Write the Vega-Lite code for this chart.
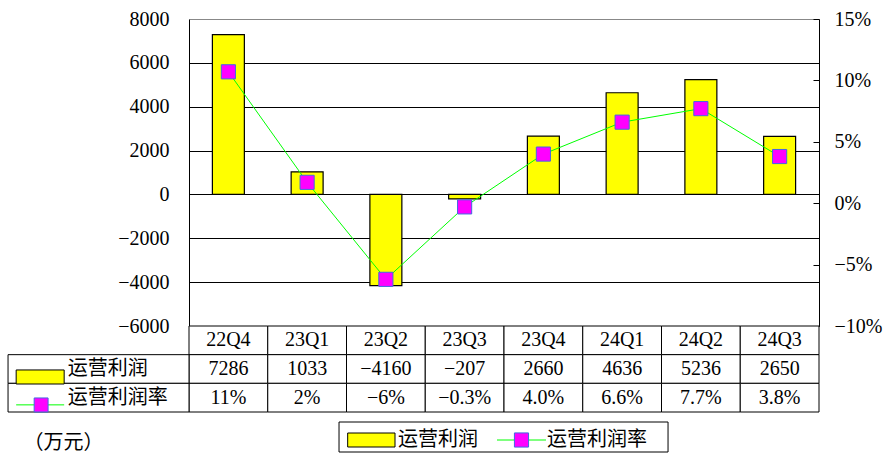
{
  "$schema": "https://vega.github.io/schema/vega-lite/v6.json",
  "padding": {"left": 7, "top": 9, "right": 5, "bottom": 5},
  "background": "white",
  "config": {
    "view": {"stroke": null},
    "font": "Liberation Serif, Noto Sans CJK SC",
    "text": {"font": "Liberation Serif, Noto Sans CJK SC", "fontSize": 20, "color": "#000"}
  },
  "datasets": {
    "q": [
      {"quarter": "22Q4", "profit": 7286, "rate": 0.107, "rateText": "11%"},
      {"quarter": "23Q1", "profit": 1033, "rate": 0.017, "rateText": "2%"},
      {"quarter": "23Q2", "profit": -4160, "rate": -0.062, "rateText": "−6%"},
      {"quarter": "23Q3", "profit": -207, "rate": -0.003, "rateText": "−0.3%"},
      {"quarter": "23Q4", "profit": 2660, "rate": 0.040, "rateText": "4.0%"},
      {"quarter": "24Q1", "profit": 4636, "rate": 0.066, "rateText": "6.6%"},
      {"quarter": "24Q2", "profit": 5236, "rate": 0.077, "rateText": "7.7%"},
      {"quarter": "24Q3", "profit": 2650, "rate": 0.038, "rateText": "3.8%"}
    ],
    "series": [
      {"name": "运营利润", "row": "profit"},
      {"name": "运营利润率", "row": "rate"}
    ]
  },
  "spacing": 0,
  "bounds": "flush",
  "resolve": {"scale": {"x": "independent", "y": "independent"}},
  "vconcat": [
    {
      "width": 630,
      "height": 307,
      "data": {"name": "q"},
      "encoding": {
        "x": {"field": "quarter", "type": "nominal", "sort": null, "axis": null,
              "scale": {"paddingInner": 0.594, "paddingOuter": 0.297}}
      },
      "layer": [
        {
          "mark": {"type": "bar", "fill": "#FFFF00", "stroke": "#000000", "strokeWidth": 1.2},
          "encoding": {
            "y": {"field": "profit", "type": "quantitative",
                  "scale": {"domain": [-6000, 8000], "nice": false, "zero": false},
                  "axis": {"title": null, "values": [-6000, -4000, -2000, 0, 2000, 4000, 6000, 8000],
                           "format": "d", "grid": true,
                           "gridColor": {"condition": {"test": "datum.value === 8000", "value": "#888888"}, "value": "#000000"},
                           "gridOpacity": 1, "gridWidth": 1,
                           "domainColor": "#000000", "ticks": false,
                           "labelFont": "Liberation Serif", "labelFontSize": 20, "labelColor": "#000000",
                           "labelPadding": 20}}
          }
        },
        {
          "encoding": {
            "y": {"field": "rate", "type": "quantitative",
                  "scale": {"domain": [-0.1, 0.15], "nice": false, "zero": false},
                  "axis": {"orient": "right", "title": null, "values": [-0.1, -0.05, 0, 0.05, 0.1, 0.15],
                           "format": ".0%", "grid": false, "domainColor": "#000000",
                           "tickColor": "#000000", "tickSize": -6,
                           "labelFont": "Liberation Serif", "labelFontSize": 20, "labelColor": "#000000",
                           "labelPadding": 21}}
          },
          "layer": [
            {"mark": {"type": "line", "color": "#00FF00", "strokeWidth": 1}},
            {"mark": {"type": "point", "shape": "square", "filled": true, "fill": "#FF00FF",
                      "stroke": "#4169E1", "strokeWidth": 1, "size": 200, "opacity": 1}}
          ]
        }
      ],
      "resolve": {"scale": {"y": "independent"}}
    },
    {
      "width": 630,
      "height": 86,
      "resolve": {"scale": {"x": "independent"}},
      "layer": [
        {
          "data": {"name": "q"},
          "mark": {"type": "rect", "fill": "#ffffff", "stroke": "#000000", "strokeWidth": 1},
          "encoding": {
            "x": {"field": "quarter", "type": "nominal", "sort": null, "axis": null,
                  "scale": {"paddingInner": 0, "paddingOuter": 0}},
            "y": {"datum": "cat", "type": "nominal", "axis": null,
                  "scale": {"domain": ["cat", "profit", "rate"], "paddingInner": 0, "paddingOuter": 0}}
          }
        },
        {
          "data": {"name": "q"},
          "mark": {"type": "rect", "fill": "#ffffff", "stroke": "#000000", "strokeWidth": 1},
          "encoding": {
            "x": {"field": "quarter", "type": "nominal", "sort": null, "axis": null,
                  "scale": {"paddingInner": 0, "paddingOuter": 0}},
            "y": {"datum": "profit", "type": "nominal", "axis": null,
                  "scale": {"domain": ["cat", "profit", "rate"], "paddingInner": 0, "paddingOuter": 0}}
          }
        },
        {
          "data": {"name": "q"},
          "mark": {"type": "rect", "fill": "#ffffff", "stroke": "#000000", "strokeWidth": 1},
          "encoding": {
            "x": {"field": "quarter", "type": "nominal", "sort": null, "axis": null,
                  "scale": {"paddingInner": 0, "paddingOuter": 0}},
            "y": {"datum": "rate", "type": "nominal", "axis": null,
                  "scale": {"domain": ["cat", "profit", "rate"], "paddingInner": 0, "paddingOuter": 0}}
          }
        },
        {
          "data": {"name": "series"},
          "mark": {"type": "rect", "fill": "#ffffff", "stroke": "#000000", "strokeWidth": 1},
          "encoding": {
            "x": {"datum": -2.298, "type": "quantitative", "axis": null, "scale": {"domain": [0, 8], "nice": false, "zero": false}},
            "x2": {"datum": 0},
            "y": {"field": "row", "type": "nominal", "axis": null,
                  "scale": {"domain": ["cat", "profit", "rate"], "paddingInner": 0, "paddingOuter": 0}}
          }
        },
        {
          "data": {"name": "q"},
          "mark": {"type": "text", "fontSize": 20, "font": "Liberation Serif"},
          "encoding": {
            "x": {"field": "quarter", "type": "nominal", "sort": null, "axis": null,
                  "scale": {"paddingInner": 0, "paddingOuter": 0}},
            "y": {"datum": "cat", "type": "nominal", "axis": null},
            "text": {"field": "quarter"}
          }
        },
        {
          "data": {"name": "q"},
          "mark": {"type": "text", "fontSize": 20, "font": "Liberation Serif"},
          "encoding": {
            "x": {"field": "quarter", "type": "nominal", "sort": null, "axis": null,
                  "scale": {"paddingInner": 0, "paddingOuter": 0}},
            "y": {"datum": "profit", "type": "nominal", "axis": null},
            "text": {"field": "profit", "type": "quantitative", "format": "d"}
          }
        },
        {
          "data": {"name": "q"},
          "mark": {"type": "text", "fontSize": 20, "font": "Liberation Serif"},
          "encoding": {
            "x": {"field": "quarter", "type": "nominal", "sort": null, "axis": null,
                  "scale": {"paddingInner": 0, "paddingOuter": 0}},
            "y": {"datum": "rate", "type": "nominal", "axis": null},
            "text": {"field": "rateText"}
          }
        },
        {
          "data": {"name": "series"},
          "mark": {"type": "text", "fontSize": 20, "align": "left", "font": "Noto Sans CJK SC"},
          "encoding": {
            "x": {"datum": -1.54, "type": "quantitative", "axis": null, "scale": {"domain": [0, 8], "nice": false, "zero": false}},
            "y": {"field": "row", "type": "nominal", "axis": null},
            "text": {"field": "name"}
          }
        },
        {
          "data": {"name": "series"},
          "transform": [{"filter": "datum.row === 'profit'"}],
          "mark": {"type": "point", "shape": "M-1,0.04H1V0.625H-1Z", "size": 2304, "filled": true,
                   "fill": "#FFFF00", "stroke": "#000000", "strokeWidth": 1, "opacity": 1},
          "encoding": {
            "x": {"datum": -1.89, "type": "quantitative", "axis": null, "scale": {"domain": [0, 8], "nice": false, "zero": false}},
            "y": {"field": "row", "type": "nominal", "axis": null}
          }
        },
        {
          "data": {"name": "series"},
          "transform": [{"filter": "datum.row === 'rate'"}],
          "mark": {"type": "point", "shape": "M-1,0.3H1", "size": 2304, "filled": false,
                   "stroke": "#00FF00", "strokeWidth": 1, "opacity": 1},
          "encoding": {
            "x": {"datum": -1.89, "type": "quantitative", "axis": null, "scale": {"domain": [0, 8], "nice": false, "zero": false}},
            "y": {"field": "row", "type": "nominal", "axis": null}
          }
        },
        {
          "data": {"name": "series"},
          "transform": [{"filter": "datum.row === 'rate'"}],
          "mark": {"type": "point", "shape": "M-0.25,0.012H0.33V0.596H-0.25Z", "size": 2304, "filled": true,
                   "fill": "#FF00FF", "stroke": "#4169E1", "strokeWidth": 1, "opacity": 1},
          "encoding": {
            "x": {"datum": -1.89, "type": "quantitative", "axis": null, "scale": {"domain": [0, 8], "nice": false, "zero": false}},
            "y": {"field": "row", "type": "nominal", "axis": null}
          }
        }
      ]
    },
    {
      "width": 630,
      "height": 50,
      "data": {"name": "series"},
      "encoding": {
        "x": {"type": "quantitative", "axis": null, "scale": {"domain": [0, 8], "nice": false, "zero": false}},
        "y": {"type": "quantitative", "axis": null, "scale": {"domain": [0, 1], "reverse": true, "nice": false, "zero": false}}
      },
      "layer": [
        {
          "transform": [{"filter": "datum.row === 'profit'"}],
          "mark": {"type": "rect", "fill": "#ffffff", "stroke": "#000000", "strokeWidth": 1},
          "encoding": {
            "x": {"datum": 1.905, "type": "quantitative", "axis": null, "scale": {"domain": [0, 8], "nice": false, "zero": false}},
            "x2": {"datum": 6.083},
            "y": {"datum": 0.2, "type": "quantitative", "axis": null, "scale": {"domain": [0, 1], "reverse": true, "nice": false, "zero": false}},
            "y2": {"datum": 0.8}
          }
        },
        {
          "transform": [{"filter": "datum.row === 'profit'"}],
          "mark": {"type": "rect", "fill": "#FFFF00", "stroke": "#000000", "strokeWidth": 1},
          "encoding": {
            "x": {"datum": 2.015, "type": "quantitative"},
            "x2": {"datum": 2.616},
            "y": {"datum": 0.42, "type": "quantitative"},
            "y2": {"datum": 0.70}
          }
        },
        {
          "transform": [{"filter": "datum.row === 'profit'"}],
          "mark": {"type": "text", "fontSize": 20, "align": "left", "font": "Noto Sans CJK SC"},
          "encoding": {
            "x": {"datum": 2.654, "type": "quantitative"},
            "y": {"datum": 0.56, "type": "quantitative"},
            "text": {"field": "name"}
          }
        },
        {
          "transform": [{"filter": "datum.row === 'rate'"}],
          "mark": {"type": "rule", "color": "#00FF00", "strokeWidth": 1},
          "encoding": {
            "x": {"datum": 3.911, "type": "quantitative"},
            "x2": {"datum": 4.533},
            "y": {"datum": 0.56, "type": "quantitative"}
          }
        },
        {
          "transform": [{"filter": "datum.row === 'rate'"}],
          "mark": {"type": "point", "shape": "square", "filled": true, "fill": "#FF00FF",
                   "stroke": "#4169E1", "strokeWidth": 1, "size": 200, "opacity": 1},
          "encoding": {
            "x": {"datum": 4.222, "type": "quantitative"},
            "y": {"datum": 0.56, "type": "quantitative"}
          }
        },
        {
          "transform": [{"filter": "datum.row === 'rate'"}],
          "mark": {"type": "text", "fontSize": 20, "align": "left", "font": "Noto Sans CJK SC"},
          "encoding": {
            "x": {"datum": 4.545, "type": "quantitative"},
            "y": {"datum": 0.56, "type": "quantitative"},
            "text": {"field": "name"}
          }
        },
        {
          "transform": [{"filter": "datum.row === 'profit'"}],
          "mark": {"type": "text", "fontSize": 20, "align": "center", "font": "Noto Sans CJK SC", "text": "（万元）"},
          "encoding": {
            "x": {"datum": -1.594, "type": "quantitative"},
            "y": {"datum": 0.62, "type": "quantitative"}
          }
        }
      ]
    }
  ]
}
